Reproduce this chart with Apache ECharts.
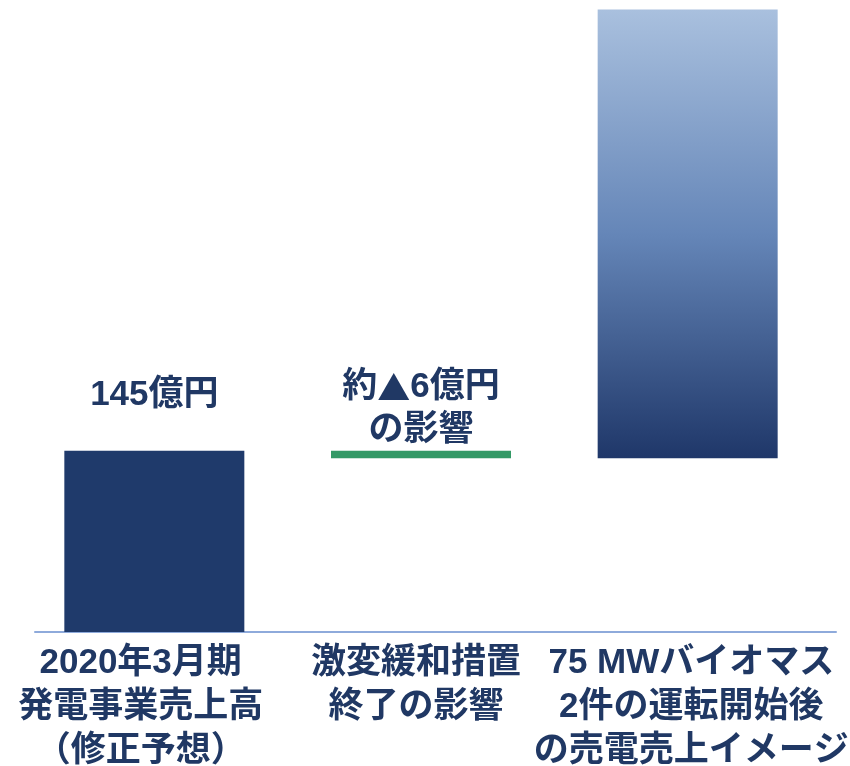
<!DOCTYPE html>
<html>
<head>
<meta charset="utf-8">
<script src="https://cdn.jsdelivr.net/npm/echarts@6/dist/echarts.min.js"></script>
<style>
  html, body { margin: 0; padding: 0; background: #fff; }
  #chart { width: 850px; height: 766px; }
</style>
</head>
<body>
<div id="chart"></div>
<script>
const categories = [
  '2020年3月期\n発電事業売上高\n（修正予想）',
  '激変緩和措置\n終了の影響',
  '75 MWバイオマス\n2件の運転開始後\nの売電売上イメージ'
]
// 浮かせるための透明な土台
const baseValues = [0, 139, 139]
const barValues = [145, 6, 359]
const barLabels = ['145億円', '約{t|▲}6億円\nの影響', '']

const navy = '#203864'
const font = '"Liberation Sans", "Noto Sans CJK JP", sans-serif'

const chart = echarts.init(document.getElementById('chart'))

const barColors = [
  '#1F3A6B',
  '#339966',
  new echarts.graphic.LinearGradient(0, 0, 0, 1, [
    { offset: 0, color: '#A9C0DE' },
    { offset: 0.5, color: '#6586B8' },
    { offset: 1, color: '#1F3769' }
  ])
]

const option = {
  animation: false,
  grid: [
    // 棒
    { left: 21, width: 800, top: 7, bottom: 134, outerBoundsMode: 'none' },
    // ラベル
    { left: 3, width: 826, top: 7, bottom: 134, outerBoundsMode: 'none' },
    // 軸線
    { left: 35, width: 801, top: 7, bottom: 134, outerBoundsMode: 'none' }
  ],
  xAxis: [
    { type: 'category', gridIndex: 0, data: categories, show: false },
    {
      type: 'category',
      gridIndex: 1,
      data: categories,
      axisLine: { show: false },
      axisTick: { show: false },
      axisLabel: {
        interval: 0,
        margin: 9,
        color: navy,
        fontSize: 35,
        lineHeight: 44,
        fontWeight: 'bold',
        fontFamily: font
      }
    },
    {
      type: 'category',
      gridIndex: 2,
      data: categories,
      axisLine: { lineStyle: { color: '#8EAADB', width: 2 } },
      axisTick: { show: false },
      axisLabel: { show: false }
    }
  ],
  yAxis: [0, 1, 2].map(i => ({
    type: 'value',
    gridIndex: i,
    min: 0,
    max: 500,
    show: false
  })),
  series: [
    {
      type: 'bar',
      stack: 'total',
      barWidth: 180,
      itemStyle: { color: 'transparent' },
      emphasis: { disabled: true },
      data: baseValues
    },
    {
      type: 'bar',
      stack: 'total',
      barWidth: 180,
      data: barValues.map((v, i) => ({
        value: v,
        itemStyle: { color: barColors[i] },
        label: {
          show: barLabels[i] !== '',
          position: 'top',
          distance: i === 0 ? 34 : -1,
          formatter: barLabels[i],
          color: navy,
          fontSize: 35,
          lineHeight: 43,
          fontWeight: 'bold',
          fontFamily: font,
          rich: {
            t: {
              color: navy,
              fontSize: 33,
              lineHeight: 43,
              fontWeight: 'bold',
              fontFamily: '"Noto Sans CJK JP", sans-serif'
            }
          }
        }
      }))
    }
  ]
}

chart.setOption(option)
</script>
</body>
</html>
